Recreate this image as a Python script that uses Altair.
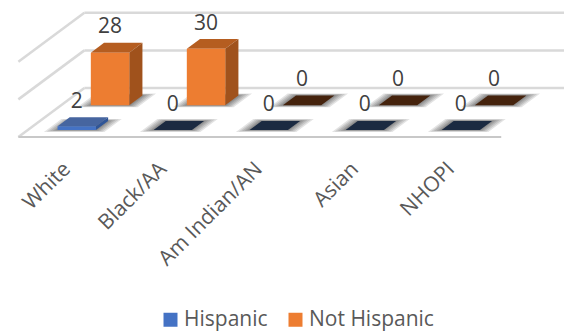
import altair as alt
import pandas as pd

categories = ["White", "Black/AA", "Am Indian/AN", "Asian", "NHOPI"]
hispanic = [2, 0, 0, 0, 0]
not_hispanic = [28, 30, 0, 0, 0]
grid_values = [0, 20, 40]

# oblique projection of the 3-D scene onto the flat scales
DX, DY = 0.6875, 26.06   # shift for a full step of depth
HALF = 0.2
ROWS = {
    "Hispanic": (0.143, 0.327, "#4472c4", "#2f5597", "#46659f", "#1b2a41"),
    "Not Hispanic": (0.647, 0.847, "#ed7d31", "#a0521c", "#b55d20", "#45230d"),
}
X_DOM = [-0.618, 5.174]
Y_DOM = [-104.26, 68.6]
sx = alt.Scale(domain=X_DOM, range=[0, 556], nice=False, zero=False)
sy = alt.Scale(domain=Y_DOM, range=[325, 0], nice=False, zero=False)
X = lambda f: alt.X(f, type="quantitative", scale=sx, axis=None)
Y = lambda f: alt.Y(f, type="quantitative", scale=sy, axis=None)


def px(c, d):
    return c + DX * d


def py(v, d):
    return v + DY * d


fronts, sides, tops, shadows, labels = [], [], [], [], []
for series, values in [("Not Hispanic", not_hispanic), ("Hispanic", hispanic)]:
    d0, d1, cf, cs, ct, cz = ROWS[series]
    for i, v in enumerate(values):
        key = f"{series}{i}"
        if v > 0:
            fronts.append(dict(series=series, x=i - HALF + px(0, d0), x2=i + HALF + px(0, d0),
                               y=py(0, d0), y2=py(v, d0)))
            r = i + HALF
            sides += [
                dict(k=key, c=cs, x=px(r, d0), y=py(0, d0), y2=py(v, d0)),
                dict(k=key, c=cs, x=px(r, d1), y=py(0, d1), y2=py(v, d1)),
            ]
        for d in (d0, d1):
            tops.append(dict(k=key, c=ct if v > 0 else cz, y=py(v, d),
                             x=px(i - HALF, d), x2=px(i + HALF, d), s=series))
        for step, grow in enumerate([0.115, 0.09, 0.065, 0.04, 0.02]):
            g = grow * 0.35
            for d, dd in ((d0, -g), (d1, g)):
                shadows.append(dict(k=f"{key}-{step}", y=py(0, d + dd),
                                    x=px(i - HALF - grow, d + dd), x2=px(i + HALF + grow, d + dd)))
        labels.append(dict(x=px(i, d0), y=py(v, d1), t=str(v)))

grid_back = pd.DataFrame([dict(x=px(-0.51, 1), x2=px(4.52, 1), y=py(v, 1), y2=py(v, 1)) for v in grid_values])
grid_side = pd.DataFrame([dict(x=px(-0.51, 0), x2=px(-0.51, 1), y=py(v, 0), y2=py(v, 1)) for v in grid_values])
floor_edge = pd.DataFrame([dict(x=px(-0.51, 0), x2=px(4.52, 0), y=py(0, 0), y2=py(0, 0))])

rule = lambda df, color, w: alt.Chart(df).mark_rule(color=color, strokeWidth=w).encode(
    x=X("x"), x2="x2", y=Y("y"), y2="y2")

hshape = dict(orient="horizontal", interpolate="linear")
shadow = alt.Chart(pd.DataFrame(shadows)).mark_area(color="#000000", opacity=0.11, **hshape).encode(
    x=X("x"), x2="x2", y=Y("y"), detail="k:N")


def faces(series):
    t = pd.DataFrame([r for r in tops if r["s"] == series])
    top = alt.Chart(t).mark_area(**hshape).encode(
        x=X("x"), x2="x2", y=Y("y"), detail="k:N", color=alt.Color("c:N", scale=None))
    return top


side = alt.Chart(pd.DataFrame(sides)).mark_area(orient="vertical", interpolate="linear").encode(
    x=X("x"), y=Y("y"), y2="y2", detail="k:N", color=alt.Color("c:N", scale=None))

front = alt.Chart(pd.DataFrame(fronts)).mark_rect().encode(
    x=X("x"), x2="x2", y=Y("y"), y2="y2",
    color=alt.Color(
        "series:N",
        scale=alt.Scale(domain=["Hispanic", "Not Hispanic"], range=["#4472c4", "#ed7d31"]),
        legend=alt.Legend(
            title=None, orient="none", legendX=152, legendY=301, direction="horizontal",
            columns=2, symbolType="square", symbolSize=196, symbolStrokeWidth=0, symbolOpacity=1,
            labelFont="Open Sans", labelFontSize=21, labelColor="#595959",
            labelOffset=3, columnPadding=17, padding=0,
        ),
    ),
)

data_labels = alt.Chart(pd.DataFrame(labels)).mark_text(
    font="Open Sans", fontSize=21, color="#404040", dy=-15.5, baseline="middle", align="center"
).encode(x=X("x"), y=Y("y"), text="t:N")

LAB_DX = 0.0
LAB_V = -15.5
cat_df = pd.DataFrame({"x": [i + LAB_DX for i in range(5)], "y": [LAB_V] * 5, "t": categories})
cat_labels = alt.Chart(cat_df).mark_text(
    font="Open Sans", fontSize=21, color="#595959", angle=315, align="right", baseline="middle"
).encode(x=X("x"), y=Y("y"), text="t:N")

chart = alt.layer(
    rule(grid_back, "#d9d9d9", 2.5),
    rule(grid_side, "#d9d9d9", 2.5),
    rule(floor_edge, "#c8c8c8", 2),
    shadow,
    faces("Not Hispanic"),
    faces("Hispanic"),
    side,
    front,
    data_labels,
    cat_labels,
).resolve_scale(color="independent").properties(
    width=556, height=325, padding=0, autosize=alt.AutoSizeParams(type="none"), background="white"
).configure_view(stroke=None)

chart.save("out.html", embed_options={"renderer": "svg", "actions": False})
